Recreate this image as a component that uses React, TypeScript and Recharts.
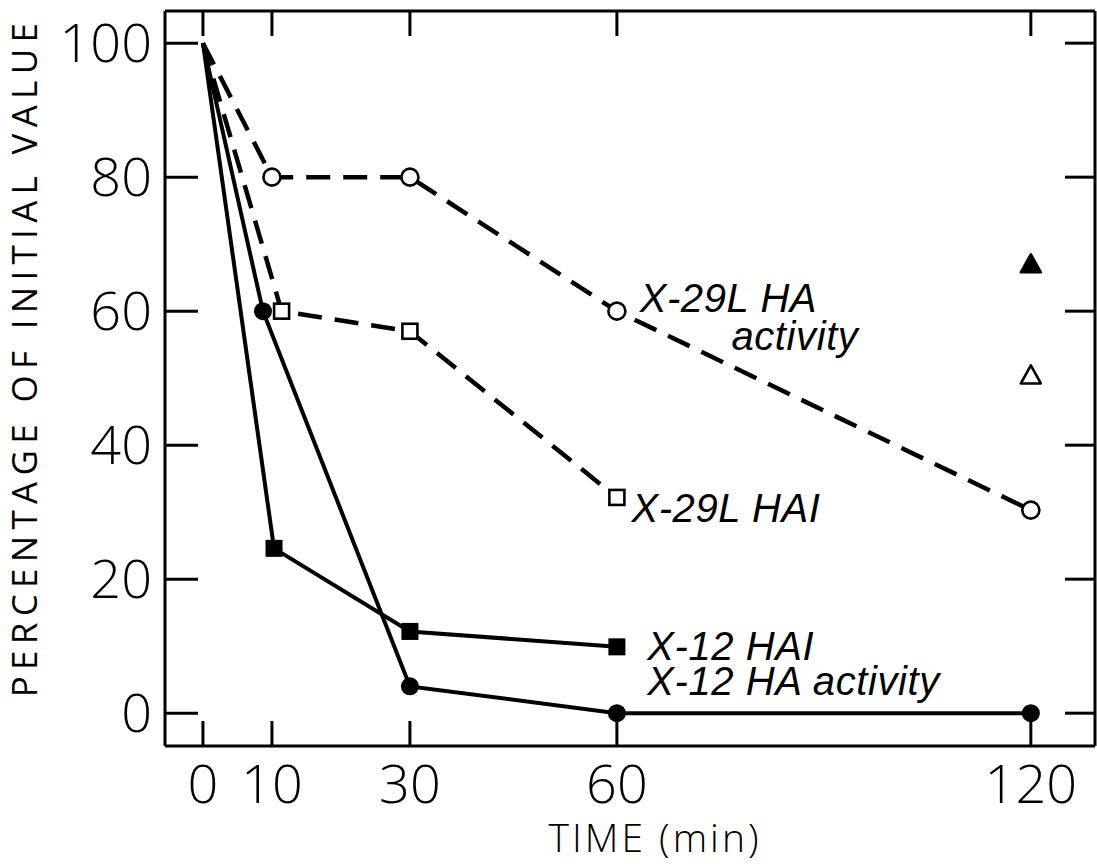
import { ComposedChart, Line, Scatter, XAxis, YAxis, ReferenceDot, Label } from "recharts";

// time (min) and % of initial value
const x29HaTime = [0, 10, 30, 60, 120];
const x29HaValue = [100, 80, 80, 60, 30.3];
const x29HaiTime = [0, 11.4, 30, 60];
const x29HaiValue = [100, 60, 57, 32.2];
const x12HaiTime = [0, 10.3, 30, 60];
const x12HaiValue = [100, 24.6, 12.2, 9.9];
const x12HaTime = [0, 8.7, 30, 60, 120];
const x12HaValue = [100, 60, 4, 0, 0];
const filledTriangle = [{ t: 120, v: 67 }];
const openTriangle = [{ t: 120, v: 50.4 }];

const xTicks = [0, 10, 30, 60, 120];
const yTicks = [0, 20, 40, 60, 80, 100];

const notes = [
  { t: 63.3, v: 59.9, text: "X-29L HA" },
  { t: 76.6, v: 54.2, text: "activity" },
  { t: 62.1, v: 28.5, text: "X-29L HAI" },
  { t: 64.4, v: 7.9, text: "X-12 HAI" },
  { t: 64.4, v: 2.7, text: "X-12 HA activity" },
];

const toRows = (ts: number[], vs: number[]) => ts.map((t, i) => ({ t, v: vs[i] }));

const INK = "#000";
const TICK_FONT = "'Open Sans', sans-serif";

const empty = (key: string) => <g key={key} />;

function openCircle(p: any) {
  if (p.index === 0) return empty(`oc${p.index}`);
  return <circle key={`oc${p.index}`} cx={p.cx} cy={p.cy} r={8.5} fill="#fff" stroke={INK} strokeWidth={2.6} />;
}
function filledCircle(p: any) {
  if (p.index === 0) return empty(`fc${p.index}`);
  return <circle key={`fc${p.index}`} cx={p.cx} cy={p.cy} r={9} fill={INK} />;
}
function openSquare(p: any) {
  if (p.index === 0) return empty(`os${p.index}`);
  return <rect key={`os${p.index}`} x={p.cx - 7.5} y={p.cy - 7.5} width={15} height={15} fill="#fff" stroke={INK} strokeWidth={2.6} />;
}
function filledSquare(p: any) {
  if (p.index === 0) return empty(`fs${p.index}`);
  return <rect key={`fs${p.index}`} x={p.cx - 8.5} y={p.cy - 8.5} width={17} height={17} fill={INK} />;
}
function triangle(filled: boolean) {
  return (p: any) => (
    <path
      d={`M${p.cx},${p.cy - 10} L${p.cx + 10},${p.cy + 8} L${p.cx - 10},${p.cy + 8} Z`}
      fill={filled ? INK : "#fff"}
      stroke={INK}
      strokeWidth={2.6}
      strokeLinejoin="round"
    />
  );
}

function BottomTick({ x, y, payload }: any) {
  return (
    <g>
      <line x1={x} y1={y} x2={x} y2={y - 25} stroke={INK} strokeWidth={3} />
      <text x={x} y={y + 57} textAnchor="middle" fontFamily={TICK_FONT} fontWeight={300} fontSize={54} fill={INK}>
        {payload.value}
      </text>
    </g>
  );
}
function TopTick({ x, y }: any) {
  return <line x1={x} y1={y} x2={x} y2={y + 25} stroke={INK} strokeWidth={3} />;
}
function LeftTick({ x, y, payload }: any) {
  return (
    <g>
      <line x1={x} y1={y} x2={x + 33} y2={y} stroke={INK} strokeWidth={3} />
      <text x={x - 13} y={y + 19} textAnchor="end" fontFamily={TICK_FONT} fontWeight={300} fontSize={54} fill={INK}>
        {payload.value}
      </text>
    </g>
  );
}
function RightTick({ x, y }: any) {
  return <line x1={x} y1={y} x2={x - 30} y2={y} stroke={INK} strokeWidth={3} />;
}

function noteShape(text: string) {
  return (p: any) => (
    <text x={p.cx} y={p.cy} fontFamily="'Liberation Sans', Arial, sans-serif" fontStyle="italic" fontSize={40} letterSpacing={0.6} fill={INK}>
      {text}
    </text>
  );
}

const axisLine = { stroke: INK, strokeWidth: 3 };
const xDomain = [-5.5, 129.3];
const yDomain = [-4.9, 104.8];

export default function App() {
  return (
    <div style={{ position: "absolute", left: 0, top: 0, background: "#fff" }}>
      <ComposedChart width={1097} height={866} margin={{ top: 10, right: 1, bottom: 0, left: 0 }}>
        <XAxis
          xAxisId="b"
          dataKey="t"
          type="number"
          domain={xDomain}
          ticks={xTicks}
          allowDataOverflow
          height={120}
          tickSize={0}
          tickMargin={0}
          tickLine={false}
          axisLine={axisLine}
          tick={<BottomTick />}
          interval={0}
        >
          <Label
            content={({ viewBox }: any) => (
              <text x={viewBox.x + 490} y={viewBox.y + 106} textAnchor="middle" fontFamily={TICK_FONT} fontWeight={300} fontSize={39} letterSpacing={3} fill={INK}>
                TIME (min)
              </text>
            )}
          />
        </XAxis>
        <XAxis
          xAxisId="top"
          dataKey="t"
          orientation="top"
          type="number"
          domain={xDomain}
          ticks={xTicks}
          allowDataOverflow
          height={1}
          tickSize={0}
          tickMargin={0}
          tickLine={false}
          axisLine={axisLine}
          tick={<TopTick />}
          interval={0}
        />
        <YAxis
          yAxisId="l"
          dataKey="v"
          type="number"
          domain={yDomain}
          ticks={yTicks}
          allowDataOverflow
          width={165}
          tickSize={0}
          tickMargin={0}
          tickLine={false}
          axisLine={axisLine}
          tick={<LeftTick />}
          interval={0}
        >
          <Label
            content={({ viewBox }: any) => {
              const cx = 23;
              const cy = viewBox.y + 346;
              return (
                <text x={cx} y={cy} transform={`rotate(-90 ${cx} ${cy})`} textAnchor="middle" dominantBaseline="central" fontFamily={TICK_FONT} fontWeight={400} fontSize={35} letterSpacing={6.3} fill={INK}>
                  PERCENTAGE OF INITIAL VALUE
                </text>
              );
            }}
          />
        </YAxis>
        <YAxis
          yAxisId="r"
          dataKey="v"
          orientation="right"
          type="number"
          domain={yDomain}
          ticks={yTicks}
          allowDataOverflow
          width={1}
          tickSize={0}
          tickMargin={0}
          tickLine={false}
          axisLine={axisLine}
          tick={<RightTick />}
          interval={0}
        />

        {/* invisible copy so the mirrored frame axes have a series */}
        <Line xAxisId="top" yAxisId="r" data={toRows(x29HaTime, x29HaValue)} dataKey="v" stroke="none" dot={false} activeDot={false} isAnimationActive={false} />

        <Line xAxisId="b" yAxisId="l" data={toRows(x29HaTime, x29HaValue)} dataKey="v" stroke={INK} strokeWidth={4.5} strokeDasharray="24 13" dot={openCircle} activeDot={false} isAnimationActive={false} />
        <Line xAxisId="b" yAxisId="l" data={toRows(x29HaiTime, x29HaiValue)} dataKey="v" stroke={INK} strokeWidth={4.5} strokeDasharray="24 13" dot={openSquare} activeDot={false} isAnimationActive={false} />
        <Line xAxisId="b" yAxisId="l" data={toRows(x12HaiTime, x12HaiValue)} dataKey="v" stroke={INK} strokeWidth={4} dot={filledSquare} activeDot={false} isAnimationActive={false} />
        <Line xAxisId="b" yAxisId="l" data={toRows(x12HaTime, x12HaValue)} dataKey="v" stroke={INK} strokeWidth={4} dot={filledCircle} activeDot={false} isAnimationActive={false} />
        <Scatter xAxisId="b" yAxisId="l" data={filledTriangle} dataKey="v" shape={triangle(true)} isAnimationActive={false} />
        <Scatter xAxisId="b" yAxisId="l" data={openTriangle} dataKey="v" shape={triangle(false)} isAnimationActive={false} />

        {notes.map((n) => (
          <ReferenceDot key={n.text} xAxisId="b" yAxisId="l" x={n.t} y={n.v} r={0} shape={noteShape(n.text)} ifOverflow="visible" />
        ))}
      </ComposedChart>
    </div>
  );
}
